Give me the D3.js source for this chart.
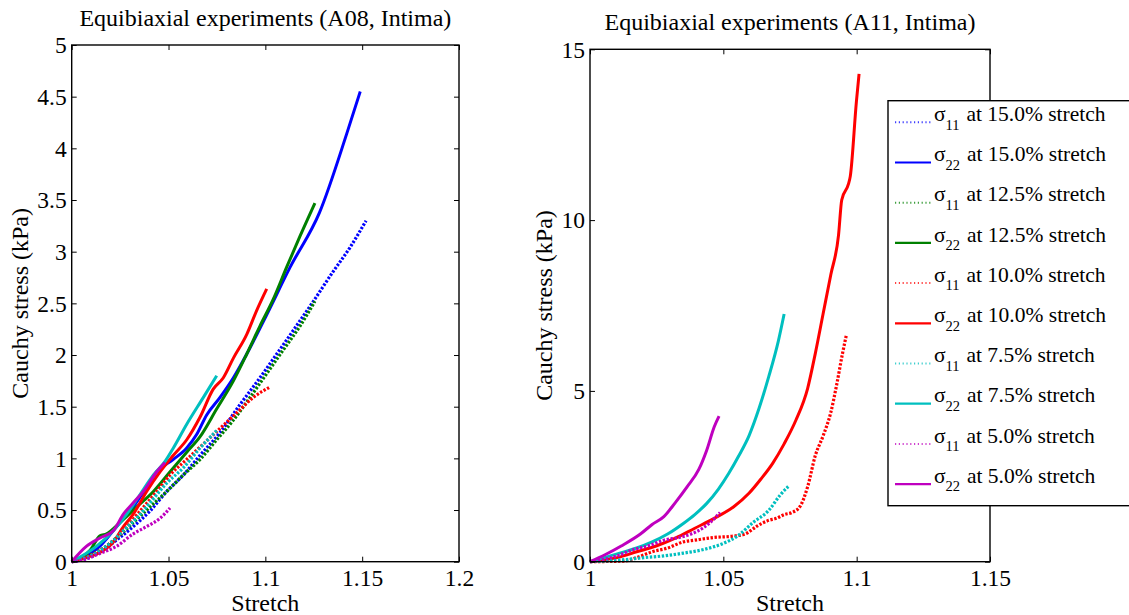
<!DOCTYPE html>
<html>
<head>
<meta charset="utf-8">
<script src="https://cdn.jsdelivr.net/npm/d3@7"></script>
<style>
  body { margin: 0; background: #fff; }
  svg, svg text { font-family: "Liberation Serif", "Times New Roman", Times, serif; }
</style>
</head>
<body>
<svg id="chart" width="1129" height="615"></svg>
<script>
// ---- legend categories ----
const stretchLevels = ["15.0%", "12.5%", "10.0%", "7.5%", "5.0%"];
const levelColors = ["#0000ff", "#008000", "#ff0000", "#00bfbf", "#bf00bf"];
const components = ["11", "22"];

// ---- tick labels ----
const a08XTicks = [1, 1.05, 1.1, 1.15, 1.2];
const a08YTicks = [0, 0.5, 1, 1.5, 2, 2.5, 3, 3.5, 4, 4.5, 5];
const a11XTicks = [1, 1.05, 1.1, 1.15];
const a11YTicks = [0, 5, 10, 15];

// ---- A08 intima: [stretch, Cauchy stress (kPa)] ----
const a08_s11_150 = [[1,0],[1.006,0.02],[1.0146,0.09],[1.0232,0.21],[1.0318,0.34],[1.0404,0.49],[1.0491,0.68],[1.0577,0.84],[1.0663,1.03],[1.0766,1.25],[1.0869,1.52],[1.0972,1.78],[1.1059,2.01],[1.1145,2.24],[1.1248,2.52],[1.1351,2.81],[1.1437,3.04],[1.152,3.30]];
const a08_s22_150 = [[1,0],[1.0146,0.15],[1.0232,0.34],[1.0318,0.53],[1.0387,0.72],[1.0439,0.87],[1.0525,0.99],[1.0594,1.10],[1.0645,1.23],[1.0697,1.42],[1.0766,1.59],[1.0835,1.78],[1.0904,2.01],[1.1007,2.39],[1.1128,2.85],[1.128,3.38],[1.142,4.14],[1.149,4.55]];
const a08_s11_125 = [[1,0],[1.0146,0.11],[1.0232,0.23],[1.0318,0.38],[1.0404,0.53],[1.0491,0.68],[1.0577,0.84],[1.0663,0.99],[1.0749,1.18],[1.0835,1.37],[1.0921,1.59],[1.1007,1.82],[1.1093,2.05],[1.1179,2.28],[1.1256,2.52]];
const a08_s22_125 = [[1,0],[1.0095,0.11],[1.0146,0.25],[1.018,0.27],[1.025,0.38],[1.0336,0.53],[1.0422,0.68],[1.0508,0.87],[1.0594,1.06],[1.0663,1.21],[1.0749,1.48],[1.0835,1.75],[1.0904,2.01],[1.0972,2.28],[1.1041,2.54],[1.111,2.85],[1.1179,3.15],[1.1256,3.47]];
const a08_s11_100 = [[1,0],[1.0095,0.06],[1.018,0.15],[1.0267,0.30],[1.0353,0.49],[1.0439,0.68],[1.0508,0.84],[1.0594,0.99],[1.068,1.14],[1.0766,1.29],[1.0852,1.44],[1.0938,1.59],[1.1024,1.69]];
const a08_s22_100 = [[1,0],[1.0077,0.04],[1.0146,0.09],[1.0215,0.19],[1.0267,0.34],[1.0318,0.46],[1.0387,0.68],[1.0456,0.87],[1.0525,1.03],[1.0594,1.18],[1.0663,1.40],[1.0731,1.67],[1.0783,1.78],[1.0835,1.97],[1.0904,2.20],[1.0955,2.43],[1.1007,2.64]];
const a08_s11_075 = [[1,0],[1.0077,0.04],[1.018,0.15],[1.0267,0.30],[1.0353,0.46],[1.0422,0.61],[1.0491,0.76],[1.0577,0.91],[1.0663,1.10],[1.0749,1.27]];
const a08_s22_075 = [[1,0],[1.0129,0.15],[1.0215,0.30],[1.0284,0.46],[1.0353,0.65],[1.0422,0.84],[1.0482,0.97],[1.0525,1.10],[1.0594,1.33],[1.068,1.59],[1.0749,1.80]];
const a08_s11_050 = [[1,0],[1.006,0.02],[1.0146,0.08],[1.0232,0.15],[1.0318,0.27],[1.0387,0.34],[1.0456,0.42],[1.0508,0.52]];
const a08_s22_050 = [[1,0],[1.0077,0.15],[1.0146,0.23],[1.0215,0.30],[1.0267,0.46],[1.0318,0.57],[1.037,0.68],[1.0439,0.87],[1.0482,0.96]];

// ---- A11 intima (only 10%, 7.5% and 5% runs recorded) ----
const a11_s11_100 = [[1,0],[1.0131,0.02],[1.0175,0.12],[1.0233,0.29],[1.0291,0.40],[1.035,0.58],[1.0393,0.63],[1.0466,0.71],[1.0539,0.75],[1.0582,0.81],[1.0626,1.04],[1.067,1.21],[1.0699,1.27],[1.0728,1.38],[1.0757,1.44],[1.0787,1.61],[1.0816,2.19],[1.0845,3.11],[1.0874,3.68],[1.0903,4.37],[1.0925,5.18],[1.0947,6.10],[1.0961,6.62]];
const a11_s22_100 = [[1,0],[1.0102,0.12],[1.0175,0.29],[1.0248,0.46],[1.032,0.69],[1.0393,0.98],[1.0466,1.27],[1.0539,1.61],[1.0597,2.01],[1.0641,2.42],[1.0685,2.88],[1.0728,3.45],[1.0772,4.14],[1.0816,5.07],[1.0845,6.10],[1.0874,7.25],[1.0903,8.40],[1.0932,9.56],[1.0944,10.59],[1.0969,11.05],[1.0976,11.28],[1.0999,13.47],[1.1009,14.28]];
const a11_s11_075 = [[1,0],[1.0131,0.06],[1.0204,0.12],[1.0277,0.17],[1.035,0.25],[1.0422,0.35],[1.0495,0.52],[1.0553,0.75],[1.0612,1.15],[1.067,1.50],[1.0714,1.96],[1.0746,2.22]];
const a11_s22_075 = [[1,0],[1.0102,0.23],[1.0175,0.40],[1.0233,0.58],[1.0291,0.81],[1.035,1.12],[1.0393,1.38],[1.0437,1.70],[1.0481,2.12],[1.052,2.58],[1.0558,3.10],[1.0597,3.70],[1.0634,4.49],[1.067,5.41],[1.0706,6.45],[1.0728,7.25]];
const a11_s11_050 = [[1,0],[1.0102,0.17],[1.016,0.35],[1.0218,0.46],[1.0277,0.63],[1.0335,0.71],[1.0379,0.81],[1.0422,0.98],[1.0451,1.15],[1.0488,1.44]];
const a11_s22_050 = [[1,0],[1.0058,0.21],[1.0117,0.46],[1.0189,0.81],[1.0233,1.09],[1.0277,1.32],[1.032,1.73],[1.0364,2.19],[1.0408,2.70],[1.0437,3.25],[1.0466,3.95],[1.0484,4.26]];

// series per panel, in plotting order: [level index, component index, data]
const a08Series = [
  [0, 0, a08_s11_150], [0, 1, a08_s22_150],
  [1, 0, a08_s11_125], [1, 1, a08_s22_125],
  [2, 0, a08_s11_100], [2, 1, a08_s22_100],
  [3, 0, a08_s11_075], [3, 1, a08_s22_075],
  [4, 0, a08_s11_050], [4, 1, a08_s22_050]
];
const a11Series = [
  [2, 0, a11_s11_100], [2, 1, a11_s22_100],
  [3, 0, a11_s11_075], [3, 1, a11_s22_075],
  [4, 0, a11_s11_050], [4, 1, a11_s22_050]
];

const svg = d3.select("#chart");
const SERIF = '"Liberation Serif", "Times New Roman", Times, serif';
const FONT = 23.5;
const DOTTED = "2.4,1.6";

function drawPanel(cfg) {
  const { left, right, top, bottom } = cfg.box;
  const x = d3.scaleLinear().domain(cfg.xDomain).range([left, right]);
  const y = d3.scaleLinear().domain(cfg.yDomain).range([bottom, top]);
  const g = svg.append("g");

  // curves: σ11 dotted, σ22 solid
  const line = d3.line().x(d => x(d[0])).y(d => y(d[1])).curve(d3.curveMonotoneX);
  cfg.series.forEach(([lvl, comp, data]) => {
    g.append("path")
      .datum(data)
      .attr("d", line)
      .attr("fill", "none")
      .attr("stroke", levelColors[lvl])
      .attr("stroke-width", comp === 0 ? 3.2 : 3)
      .attr("stroke-dasharray", comp === 0 ? DOTTED : null)
      .attr("stroke-linejoin", "round");
  });

  // axes with inward ticks on all four sides
  const fmt = v => String(v);
  g.append("g").attr("transform", `translate(0,${bottom})`)
    .call(d3.axisBottom(x).tickValues(cfg.xTicks).tickFormat(fmt).tickSize(-5).tickSizeOuter(0).tickPadding(8));
  const leftAx = g.append("g").attr("transform", `translate(${left},0)`)
    .call(d3.axisLeft(y).tickValues(cfg.yTicks).tickFormat(fmt).tickSize(-5).tickSizeOuter(0).tickPadding(5));
  g.append("g").attr("transform", `translate(0,${top})`)
    .call(d3.axisTop(x).tickValues(cfg.xTicks).tickFormat("").tickSize(-5).tickSizeOuter(0));
  g.append("g").attr("transform", `translate(${right},0)`)
    .call(d3.axisRight(y).tickValues(cfg.yTicks).tickFormat("").tickSize(-5).tickSizeOuter(0));
  g.selectAll(".domain").remove();
  g.selectAll("g").attr("font-family", SERIF);
  g.selectAll(".tick line").attr("stroke", "#000").attr("stroke-width", 1);
  g.selectAll(".tick text").attr("fill", "#000")
    .style("font-family", SERIF).style("font-size", FONT + "px");
  leftAx.selectAll(".tick text").attr("dy", "0.33em");

  g.append("rect")
    .attr("x", left).attr("y", top)
    .attr("width", right - left).attr("height", bottom - top)
    .attr("fill", "none").attr("stroke", "#000").attr("stroke-width", 1.4);

  // titles and axis labels
  const cx = (left + right) / 2;
  g.append("text").attr("x", cx).attr("y", top - 19)
    .attr("text-anchor", "middle").style("font-family", SERIF).style("font-size", "24px").text(cfg.title);
  g.append("text").attr("x", cx).attr("y", 610.5)
    .attr("text-anchor", "middle").style("font-family", SERIF).style("font-size", "24px").text("Stretch");
  g.append("text")
    .attr("transform", `translate(${cfg.yLabelX},${(top + bottom) / 2}) rotate(-90)`)
    .attr("text-anchor", "middle").style("font-family", SERIF).style("font-size", "24px").text("Cauchy stress (kPa)");
}

drawPanel({
  box: { left: 71.7, right: 459, top: 45, bottom: 561.7 },
  xDomain: [1, 1.2], yDomain: [0, 5],
  xTicks: a08XTicks, yTicks: a08YTicks,
  series: a08Series,
  title: "Equibiaxial experiments (A08, Intima)",
  yLabelX: 28
});

drawPanel({
  box: { left: 590, right: 990, top: 49.3, bottom: 561.7 },
  xDomain: [1, 1.15], yDomain: [0, 15],
  xTicks: a11XTicks, yTicks: a11YTicks,
  series: a11Series,
  title: "Equibiaxial experiments (A11, Intima)",
  yLabelX: 552
});

// legend (drawn over the right panel)
const legend = svg.append("g");
const lgLeft = 888, lgTop = 100.7, lgBottom = 505.7, rowStep = 40.2, firstRow = 122.3;
legend.append("rect")
  .attr("x", lgLeft).attr("y", lgTop)
  .attr("width", 260).attr("height", lgBottom - lgTop)
  .attr("fill", "#fff").attr("stroke", "#000").attr("stroke-width", 1.4);

stretchLevels.forEach((lvl, i) => {
  components.forEach((comp, j) => {
    const ry = firstRow + (i * 2 + j) * rowStep;
    legend.append("line")
      .attr("x1", 895).attr("x2", 931).attr("y1", ry).attr("y2", ry)
      .attr("stroke", levelColors[i])
      .attr("stroke-width", j === 0 ? 2 : 2.2)
      .attr("stroke-dasharray", j === 0 ? "1.2,2.6" : null)
      .attr("opacity", j === 0 ? 0.75 : 1);
    const t = legend.append("text")
      .attr("x", 934).attr("y", ry - 1.3)
      .style("font-family", SERIF)
      .style("font-size", "21.5px");
    t.append("tspan").text("σ");
    t.append("tspan").attr("dy", 8.5).style("font-size", "14.5px").text(comp);
    t.append("tspan").attr("dy", -8.5).attr("dx", 1.5).text(` at ${lvl} stretch`);
  });
});
</script>
</body>
</html>
